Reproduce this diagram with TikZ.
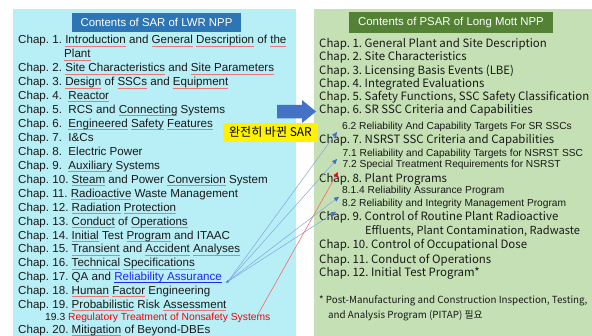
\documentclass[tikz,border=0pt]{standalone}
\usepackage{fontspec}
\setmainfont{Liberation Sans}
\newfontfamily\kr{Noto Sans CJK KR}
\usetikzlibrary{arrows.meta,calc}
\frenchspacing
\definecolor{leftbg}{RGB}{184,238,246}
\definecolor{rightbg}{RGB}{197,224,180}
\definecolor{titleblue}{RGB}{46,117,182}
\definecolor{titlegreen}{RGB}{84,130,53}
\definecolor{arrowblue}{RGB}{68,114,196}
\definecolor{lineblue}{RGB}{130,165,225}
\definecolor{linered}{RGB}{250,90,90}
\definecolor{sqred}{RGB}{235,120,120}
\definecolor{link}{RGB}{30,40,240}
\definecolor{txt}{RGB}{25,25,25}
\newsavebox\sqbox
\newcommand\sq[1]{\sbox\sqbox{#1}\rlap{\textcolor{sqred}{\rule[-2.2pt]{\wd\sqbox}{0.45pt}}}\usebox\sqbox}
\newcommand\lnk[1]{\sbox\sqbox{#1}\textcolor{link}{\rlap{\rule[-1.6pt]{\wd\sqbox}{0.6pt}}#1}}
\begin{document}
\frenchspacing
\begin{tikzpicture}[x=1pt,y=-1pt,
  lt/.style={anchor=base west,inner sep=0pt,text=txt,font=\fontsize{11.6}{13}\selectfont},
  lsub/.style={anchor=base west,inner sep=0pt,text=txt,font=\fontsize{10.3}{12}\selectfont},
  rt/.style={anchor=base west,inner sep=0pt,text=txt,font=\kr\fontsize{11.45}{13}\selectfont},
  rsub/.style={anchor=base west,inner sep=0pt,text=txt,font=\fontsize{10.2}{12}\selectfont},
  rfn/.style={anchor=base west,inner sep=0pt,text=txt,font=\kr\fontsize{9.8}{12}\selectfont},
  titlebox/.style={inner sep=0pt,text=white,font=\fontsize{11.4}{13}\selectfont},
  blink/.style={draw=lineblue,line width=0.5pt,-{Triangle[length=5pt,width=4.5pt,color=arrowblue]}},
  rlink/.style={draw=linered,line width=0.5pt,-{Triangle[length=5pt,width=4.5pt,color=red]}}]
\useasboundingbox (0,0) rectangle (592,336);
% panels
\fill[leftbg] (13,9) rectangle (296,340);
\fill[rightbg] (314,9) rectangle (596,340);
% titles
\node[titlebox,fill=titleblue,minimum width=169pt,minimum height=19pt] (ltitle) at (156.5,22.5) {Contents of SAR of LWR NPP};
\node[titlebox,fill=titlegreen,minimum width=204pt,minimum height=21pt] (rtitle) at (451,22.5) {Contents of PSAR of Long Mott NPP};
% left column
\def\ls{13.93}
\node[lt] (L1) at (18,44) {Chap. 1. \sq{Introduction} and \sq{General} \sq{Description} of \sq{the}};
\node[lt] (L1b) at (64,{44+\ls}) {\sq{Plant}};
\node[lt] (L2) at (18,{44+2*\ls}) {Chap. 2. \sq{Site Characteristics} and \sq{Site Parameters}};
\node[lt] (L3) at (18,{44+3*\ls}) {Chap. 3. \sq{Design} of \sq{SSCs} and \sq{Equipment}};
\node[lt] (L4) at (18,{44+4*\ls}) {Chap. 4.~ \sq{Reactor}};
\node[lt] (L5) at (18,{44+5*\ls}) {Chap. 5.~ RCS and \sq{Connecting} Systems};
\node[lt] (L6) at (18,{44+6*\ls}) {Chap. 6.~ \sq{Engineered} \sq{Safety} \sq{Features}};
\node[lt] (L7) at (18,{44+7*\ls}) {Chap. 7.~ I\&Cs};
\node[lt] (L8) at (18,{44+8*\ls}) {Chap. 8.~ Electric Power};
\node[lt] (L9) at (18,{44+9*\ls}) {Chap. 9.~ \sq{Auxiliary} Systems};
\node[lt] (L10) at (18,{44+10*\ls}) {Chap. 10. \sq{Steam} and Power \sq{Conversion} System};
\node[lt] (L11) at (18,{44+11*\ls}) {Chap. 11. \sq{Radioactive} Waste Management};
\node[lt] (L12) at (18,{44+12*\ls}) {Chap. 12. \sq{Radiation} \sq{Protection}};
\node[lt] (L13) at (18,{44+13*\ls}) {Chap. 13. \sq{Conduct} of \sq{Operations}};
\node[lt] (L14) at (18,{44+14*\ls}) {Chap. 14. \sq{Initial} Test \sq{Program} and ITAAC};
\node[lt] (L15) at (18,{44+15*\ls}) {Chap. 15. \sq{Transient} and \sq{Accident} \sq{Analyses}};
\node[lt] (L16) at (18,{44+16*\ls}) {Chap. 16. \sq{Technical} \sq{Specifications}};
\node[lt] (L17) at (18,{44+17*\ls}) {Chap. 17. QA and \lnk{Reliability Assurance}};
\node[lt] (L18) at (18,{44+18*\ls}) {Chap. 18. \sq{Human} \sq{Factor} Engineering};
\node[lt] (L19) at (18,{44+19*\ls}) {Chap. 19. \sq{Probabilistic} Risk \sq{Assessment}};
\node[lsub] (L193) at (45,320.5) {19.3 \textcolor{red}{Regulatory Treatment of Nonsafety Systems}};
\node[lt] (L20) at (18,333.7) {Chap. 20. \sq{Mitigation} of Beyond-DBEs};
% right column
\node[rt] (R1) at (319,47.5) {Chap. 1. General Plant and Site Description};
\node[rt] (R2) at (319,61) {Chap. 2. Site Characteristics};
\node[rt] (R3) at (319,74.3) {Chap. 3. Licensing Basis Events (LBE)};
\node[rt] (R4) at (319,87.5) {Chap. 4. Integrated Evaluations};
\node[rt] (R5) at (319,100.7) {Chap. 5. Safety Functions, SSC Safety Classification};
\node[rt] (R6) at (319,113.7) {Chap. 6. SR SSC Criteria and Capabilities};
\node[rsub] (R62) at (342,130) {6.2 Reliability And Capability Targets For SR SSCs};
\node[rt] (R7) at (319,143.3) {Chap. 7. NSRST SSC Criteria and Capabilities};
\node[rsub] (R71) at (342.5,156.7) {7.1 Reliability and Capability Targets for NSRST SSC};
\node[rsub] (R72) at (342.5,167.5) {7.2 Special Treatment Requirements for NSRST};
\node[rt] (R8) at (319,182.7) {Chap. 8. Plant Programs};
\node[rsub] (R814) at (342,194) {8.1.4 Reliability Assurance Program};
\node[rsub] (R82) at (342,206.7) {8.2 Reliability and Integrity Management Program};
\node[rt] (R9) at (319,221) {Chap. 9. Control of Routine Plant Radioactive};
\node[rt,font=\kr\fontsize{11.1}{13}\selectfont] (R9b) at (365,235) {Effluents, Plant Contamination, Radwaste};
\node[rt] (R10) at (319,249) {Chap. 10. Control of Occupational Dose};
\node[rt] (R11) at (319,263.3) {Chap. 11. Conduct of Operations};
\node[rt] (R12) at (319,276.7) {Chap. 12. Initial Test Program*};
\node[rfn] (F1) at (319,304) {* Post-Manufacturing and Construction Inspection, Testing,};
\node[rfn] (F2) at (328,319) {and Analysis Program (PITAP) 필요};
% big arrow
\fill[arrowblue] (277,105) -- (302,105) -- (302,100) -- (316,111.5) -- (302,123) -- (302,118.5) -- (277,118.5) -- cycle;
% yellow label
\node[fill=yellow,inner sep=0pt,minimum width=95pt,minimum height=19pt,font=\kr\fontsize{12}{13}\selectfont,text=black] (chg) at (270.5,132.5) {완전히 바뀐 SAR};
% connectors
\coordinate (ra) at ($(L17.base east)+(6,0.5)$);
\fill[arrowblue] ($(ra)+(-2.5,1.5)$) -- ++(2.5,-3.2) -- ++(1.2,2.6) -- cycle;
\draw[blink] (ra) -- ($(R62.base west)+(-5,2)$);
\draw[blink] (ra) -- ($(R71.base west)+(-5.5,2.3)$);
\draw[blink] (ra) -- ($(R814.base west)+(-3,2.7)$);
\draw[blink] (ra) -- ($(R82.base west)+(-6,5)$);
\draw[rlink] ($(L193.base east)+(-13,-5.5)$) -- ($(R72.base west)+(-4.5,4.5)$);
\end{tikzpicture}
\end{document}
